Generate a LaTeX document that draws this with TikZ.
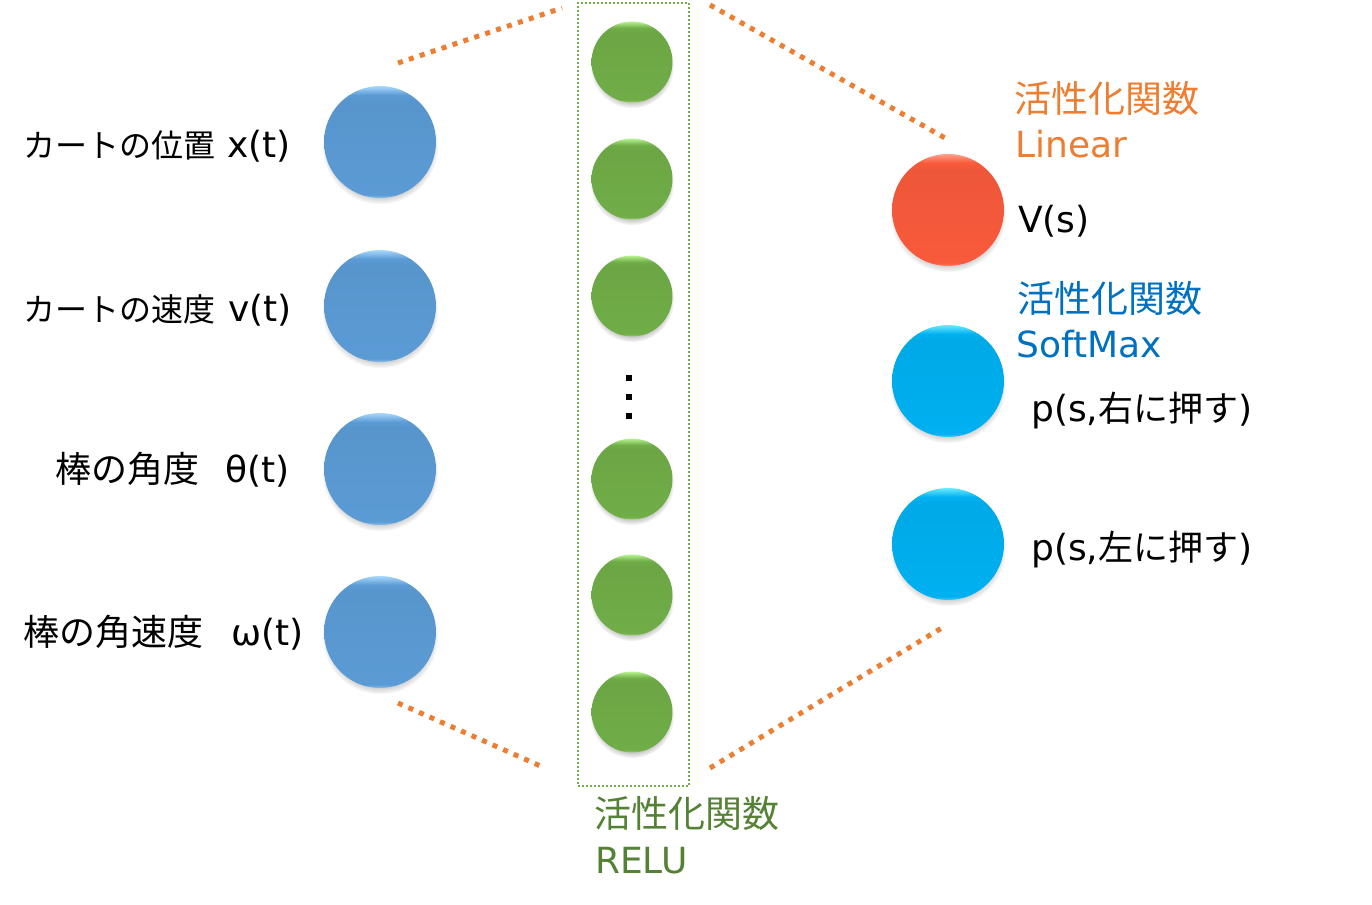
\documentclass[tikz,border=0pt]{standalone}
\usepackage{fontspec}
\setmainfont{DejaVu Sans}
\newfontfamily\jp{Noto Sans CJK JP}
\usetikzlibrary{shadows,fadings}
\definecolor{inB}{HTML}{5B9BD5}
\definecolor{inBl}{HTML}{A8D8FC}
\definecolor{hidG}{HTML}{70AD47}
\definecolor{hidGl}{HTML}{B8F590}
\definecolor{outR}{HTML}{F85A3B}
\definecolor{outRl}{HTML}{FF9F88}
\definecolor{outC}{HTML}{00B0F0}
\definecolor{outCl}{HTML}{6BEAFF}
\definecolor{zoomO}{HTML}{ED7D31}
\definecolor{txtB}{HTML}{0070C0}
\definecolor{txtG}{HTML}{548235}
\definecolor{boxG}{HTML}{70AD47}
\pgfdeclareverticalshading{shB}{100bp}{color(0bp)=(inBl); color(25bp)=(inBl!60!inB); color(26.5bp)=(inB); color(68bp)=(inB!96!black); color(71bp)=(inB); color(75bp)=(inBl); color(100bp)=(inBl)}
\pgfdeclareverticalshading{shG}{100bp}{color(0bp)=(hidGl); color(25bp)=(hidGl!60!hidG); color(26.5bp)=(hidG); color(68bp)=(hidG!96!black); color(71bp)=(hidG); color(75bp)=(hidGl); color(100bp)=(hidGl)}
\pgfdeclareverticalshading{shR}{100bp}{color(0bp)=(outRl); color(25bp)=(outRl!60!outR); color(26.5bp)=(outR); color(68bp)=(outR!96!black); color(71bp)=(outR); color(75bp)=(outRl); color(100bp)=(outRl)}
\pgfdeclareverticalshading{shC}{100bp}{color(0bp)=(outCl); color(25bp)=(outCl!60!outC); color(26.5bp)=(outC); color(68bp)=(outC!96!black); color(71bp)=(outC); color(75bp)=(outCl); color(100bp)=(outCl)}
\tikzset{
  ballbase/.style={circle, inner sep=0pt, draw=none,
    circular drop shadow={shadow xshift=0pt, shadow yshift=-4pt, shadow scale=1.04, opacity=0.45}},
  inball/.style={ballbase, minimum size=112pt, shading=shB},
  hidball/.style={ballbase, minimum size=81pt, shading=shG},
  valball/.style={ballbase, minimum size=112pt, shading=shR},
  polball/.style={ballbase, minimum size=112pt, shading=shC},
  zoomline/.style={draw=zoomO, line width=5pt, dash pattern=on 5pt off 6.5pt},
  lbl/.style={inner sep=0pt, anchor=base west},
  jpS/.style={lbl, font=\jp\fontsize{32}{38}\selectfont},
  jpM/.style={lbl, font=\jp\fontsize{36}{42}\selectfont},
  jpL/.style={lbl, font=\jp\fontsize{37}{44}\selectfont},
  lat/.style={lbl, font=\fontsize{36}{42}\selectfont},
}
\begin{document}
\begin{tikzpicture}[x=1pt,y=1pt]
\useasboundingbox (0,0) rectangle (1372,-904);
% hidden layer frame
\node[draw=boxG, line width=2pt, dash pattern=on 2pt off 2pt, inner sep=0pt,
      minimum width=111pt, minimum height=783pt] (hbox) at (633.5,-394.5) {};
% zoom lines
\coordinate (a1) at (398,-63);  \coordinate (a2) at (562,-8);
\coordinate (b1) at (398,-703); \coordinate (b2) at (545,-768);
\coordinate (c1) at (710,-5);   \coordinate (c2) at (945,-138);
\coordinate (d1) at (710,-768); \coordinate (d2) at (945,-626);
\draw[zoomline] (a1) -- (a2);
\draw[zoomline] (b1) -- (b2);
\draw[zoomline] (c1) -- (c2);
\draw[zoomline] (d1) -- (d2);
% input layer
\node[inball] (i1) at (380,-142) {};
\node[inball] (i2) at (380,-306) {};
\node[inball] (i3) at (380,-469) {};
\node[inball] (i4) at (380,-632) {};
% hidden layer
\node[hidball] (h1) at (632,-62) {};
\node[hidball] (h2) at (632,-179) {};
\node[hidball] (h3) at (632,-296) {};
\node[hidball] (h4) at (632,-479) {};
\node[hidball] (h5) at (632,-595) {};
\node[hidball] (h6) at (632,-712) {};
\fill (626,-375) rectangle (632,-381);
\fill (626,-394) rectangle (632,-400);
\fill (626,-413) rectangle (632,-419);
% output layer
\node[valball] (o1) at (948,-210) {};
\node[polball] (o2) at (948,-381) {};
\node[polball] (o3) at (948,-544) {};
% input labels
\node[jpS] (l1j) at (23,-158) {カートの位置};
\node[lat] (l1l) at (227,-158) {x(t)};
\node[jpS] (l2j) at (23,-321) {カートの速度};
\node[lat] (l2l) at (228,-321) {v(t)};
\node[jpM] (l3j) at (55,-482.5) {棒の角度};
\node[lat] (l3l) at (225,-482.5) {θ(t)};
\node[jpM] (l4j) at (23,-645) {棒の角速度};
\node[lat] (l4l) at (231,-645) {ω(t)};
% output labels
\node[jpL, text=zoomO] (oa1) at (1014,-112.5) {活性化関数};
\node[lat, text=zoomO] (oa2) at (1015,-158) {Linear};
\node[lat] (v) at (1018,-232) {V(s)};
\node[jpL, text=txtB] (ob1) at (1017,-312.5) {活性化関数};
\node[lat, text=txtB] (ob2) at (1016,-357) {SoftMax};
\node[lat] (p1) at (1031,-421) {p(s,{\jp\fontsize{35}{42}\selectfont 右に押す})};
\node[lat] (p2) at (1031,-560) {p(s,{\jp\fontsize{35}{42}\selectfont 左に押す})};
% hidden label
\node[jpL, text=txtG] (hl1) at (594,-827.5) {活性化関数};
\node[lat, text=txtG] (hl2) at (595,-873) {RELU};
\end{tikzpicture}
\end{document}
